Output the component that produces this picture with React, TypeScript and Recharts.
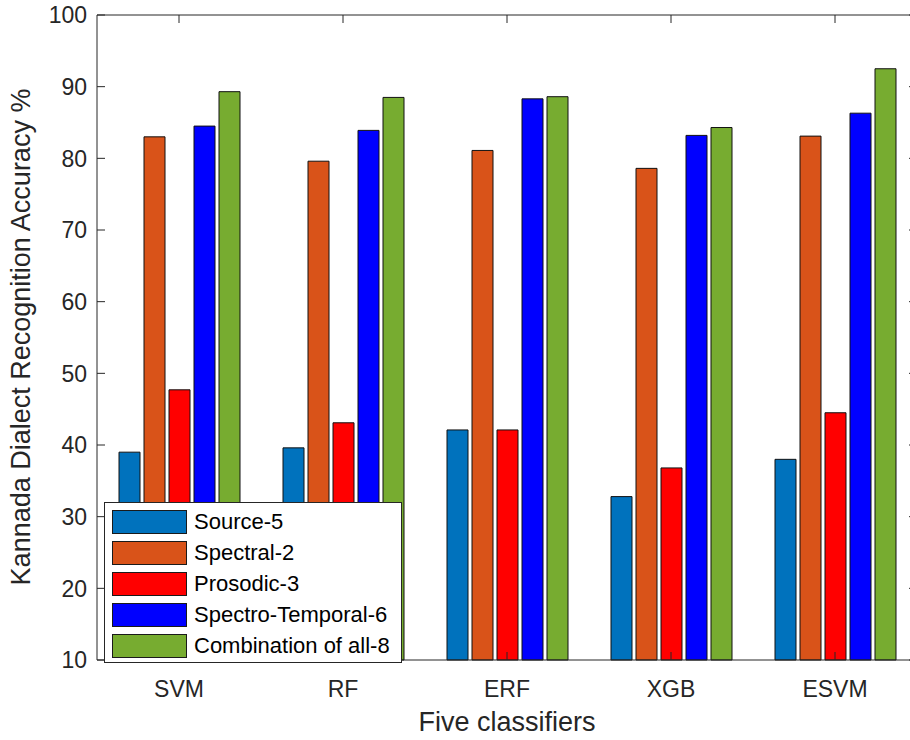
import { ComposedChart, Bar, Line, XAxis, YAxis } from "recharts";

const categories = ["SVM", "RF", "ERF", "XGB", "ESVM"];
const source5 = [39.0, 39.6, 42.1, 32.8, 38.0];
const spectral2 = [83.0, 79.6, 81.1, 78.6, 83.1];
const prosodic3 = [47.7, 43.1, 42.1, 36.8, 44.5];
const spectroTemporal6 = [84.5, 83.9, 88.3, 83.2, 86.3];
const combination8 = [89.3, 88.5, 88.6, 84.3, 92.5];
const yTicks = [10, 20, 30, 40, 50, 60, 70, 80, 90, 100];

const series = [
  { key: "source5", name: "Source-5", color: "#0072BD" },
  { key: "spectral2", name: "Spectral-2", color: "#D95319" },
  { key: "prosodic3", name: "Prosodic-3", color: "#FF0000" },
  { key: "spectroTemporal6", name: "Spectro-Temporal-6", color: "#0000FF" },
  { key: "combination8", name: "Combination of all-8", color: "#77AC30" },
];

const data = categories.map((c, i) => ({
  name: c,
  source5: source5[i],
  spectral2: spectral2[i],
  prosodic3: prosodic3[i],
  spectroTemporal6: spectroTemporal6[i],
  combination8: combination8[i],
}));

const AXIS = "#262626";
const FONT = "'Liberation Sans', Arial, Helvetica, sans-serif";

const LeftTick = (props: any) => {
  const { x, y, payload } = props;
  return (
    <g>
      <line x1={x} x2={x + 8} y1={y} y2={y} stroke={AXIS} strokeWidth={1} />
      <text x={x - 10} y={y} dy="0.36em" textAnchor="end" fontSize={23} fill={AXIS} fontFamily={FONT}>
        {payload.value}
      </text>
    </g>
  );
};

const RightTick = (props: any) => {
  const { x, y } = props;
  return <line x1={x} x2={x - 8} y1={y} y2={y} stroke={AXIS} strokeWidth={1} />;
};

const BottomTick = (props: any) => {
  const { x, y, payload } = props;
  return (
    <g>
      <line x1={x} x2={x} y1={y} y2={y - 8} stroke={AXIS} strokeWidth={1} />
      <text x={x} y={y + 37} textAnchor="middle" fontSize={23} fill={AXIS} fontFamily={FONT}>
        {payload.value}
      </text>
    </g>
  );
};

const TopTick = (props: any) => {
  const { x, y } = props;
  return <line x1={x} x2={x} y1={y} y2={y + 8} stroke={AXIS} strokeWidth={1} />;
};

const LegendBox = () => (
  <div
    style={{
      position: "absolute",
      left: 104,
      top: 502,
      width: 296,
      height: 159,
      background: "#fff",
      border: "1px solid #262626",
      fontFamily: FONT,
    }}
  >
    {series.map((s, i) => (
      <div
        key={s.key}
        style={{ position: "absolute", left: 7, top: 6 + i * 31, height: 26, display: "flex", alignItems: "center" }}
      >
        <div style={{ width: 73, height: 22, background: s.color, border: "1px solid #1a1a1a" }} />
        <span style={{ marginLeft: 7, fontSize: 22, color: "#000", whiteSpace: "nowrap" }}>{s.name}</span>
      </div>
    ))}
  </div>
);

export default function App() {
  return (
    <div
      style={{
        position: "fixed",
        left: 0,
        top: 0,
        width: 910,
        height: 740,
        overflow: "hidden",
        background: "#fff",
      }}
    >
      <ComposedChart
        width={930}
        height={740}
        data={data}
        margin={{ top: 14, right: 8, bottom: 0, left: 0 }}
        barSize={21}
        barGap={4}
      >
        <XAxis
          xAxisId="bottom"
          dataKey="name"
          height={80}
          tickSize={0}
          tickMargin={0}
          axisLine={{ stroke: AXIS }}
          tickLine={false}
          tick={<BottomTick />}
          label={{
            content: (p: any) => (
              <text
                x={p.viewBox.x + p.viewBox.width / 2}
                y={p.viewBox.y + 71}
                textAnchor="middle"
                fontSize={27}
                fill={AXIS}
                fontFamily={FONT}
              >
                Five classifiers
              </text>
            ),
          }}
        />
        <XAxis
          xAxisId="top"
          dataKey="name"
          orientation="top"
          height={1}
          tickSize={0}
          tickMargin={0}
          axisLine={{ stroke: AXIS }}
          tickLine={false}
          tick={<TopTick />}
        />
        <YAxis
          yAxisId="left"
          width={97}
          domain={[10, 100]}
          ticks={yTicks}
          tickSize={0}
          tickMargin={0}
          axisLine={{ stroke: AXIS }}
          tickLine={false}
          tick={<LeftTick />}
          label={{
            content: () => (
              <text
                x={30}
                y={337}
                transform="rotate(-90 30 337)"
                textAnchor="middle"
                fontSize={27}
                fill={AXIS}
                fontFamily={FONT}
              >
                Kannada Dialect Recognition Accuracy %
              </text>
            ),
          }}
        />
        <YAxis
          yAxisId="right"
          orientation="right"
          width={5}
          domain={[10, 100]}
          ticks={yTicks}
          tickSize={0}
          tickMargin={0}
          axisLine={{ stroke: AXIS }}
          tickLine={false}
          tick={<RightTick />}
        />
        {series.map((s) => (
          <Bar
            key={s.key}
            xAxisId="bottom"
            yAxisId="left"
            dataKey={s.key}
            name={s.name}
            fill={s.color}
            stroke="#111"
            strokeWidth={1}
            isAnimationActive={false}
          />
        ))}
        {/* invisible series so the top and right box axes get a domain */}
        <Line
          xAxisId="top"
          yAxisId="right"
          dataKey="source5"
          stroke="none"
          dot={false}
          activeDot={false}
          legendType="none"
          isAnimationActive={false}
        />
      </ComposedChart>
      <LegendBox />
    </div>
  );
}
